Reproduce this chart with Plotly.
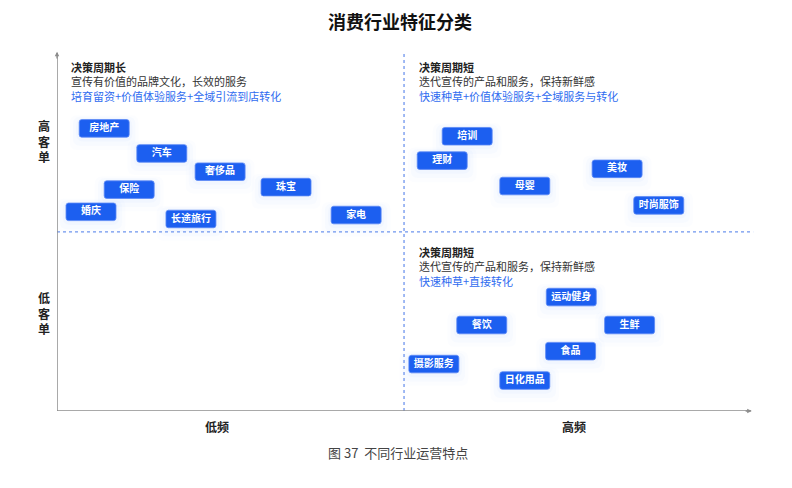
import plotly.graph_objects as go

# industry tags: name, frequency (x), ticket size (y) on a 0-100 scale
names = ["房地产", "汽车", "奢侈品", "保险", "珠宝", "婚庆", "长途旅行", "家电",
         "培训", "理财", "母婴", "美妆", "时尚服饰",
         "运动健身", "餐饮", "生鲜", "食品", "摄影服务", "日化用品"]
freq = [6.8, 15.1, 23.5, 10.4, 33.0, 4.9, 19.3, 43.1,
        59.1, 55.5, 67.4, 80.7, 86.7,
        74.1, 61.2, 82.5, 74.0, 54.3, 67.4]
ticket = [78.9, 71.9, 66.8, 61.8, 62.5, 55.6, 53.6, 54.7,
          76.7, 69.9, 62.8, 67.6, 57.4,
          31.8, 24.0, 24.0, 16.7, 13.1, 8.5]

# quadrant notes
quad_x = [1.7, 51.8, 51.8]
quad_y = [98.9, 98.9, 47.1]
quad_head = ["决策周期长", "决策周期短", "决策周期短"]
quad_line = ["宣传有价值的品牌文化，长效的服务", "迭代宣传的产品和服务，保持新鲜感", "迭代宣传的产品和服务，保持新鲜感"]
quad_blue = ["培育留资+价值体验服务+全域引流到店转化", "快速种草+价值体验服务+全域服务与转化", "快速种草+直接转化"]

mid = 50
FONT = "Noto Sans CJK SC"
BLUE = "#1c5ff0"
BW, BH = 7.2, 4.9   # box size in data units
RX, RY = 0.35, 0.7  # corner radius


def rounded(x0, y0, x1, y1, rx, ry):
    return (f"M{x0+rx},{y0} L{x1-rx},{y0} Q{x1},{y0} {x1},{y0+ry} "
            f"L{x1},{y1-ry} Q{x1},{y1} {x1-rx},{y1} L{x0+rx},{y1} "
            f"Q{x0},{y1} {x0},{y1-ry} L{x0},{y0+ry} Q{x0},{y0} {x0+rx},{y0} Z")


fig = go.Figure()

shapes = []
# soft glow under the boxes
for x, y in zip(freq, ticket):
    for g, op in [(3.0, 0.025), (2.0, 0.03), (1.0, 0.04)]:
        shapes.append(dict(type="path", xref="x", yref="y", layer="below",
                           path=rounded(x - BW/2 - g*0.45, y - BH/2 - g*1.2, x + BW/2 + g*0.45, y + BH/2 + g*0.4,
                                        RX*3, RY*3),
                           fillcolor="#6f97f7", opacity=op, line=dict(width=0)))
for x, y in zip(freq, ticket):
    shapes.append(dict(type="path", xref="x", yref="y", layer="below",
                       path=rounded(x - BW/2, y - BH/2, x + BW/2, y + BH/2, RX, RY),
                       fillcolor=BLUE, line=dict(color="#5a88f5", width=0.8)))

# dashed quadrant dividers
shapes.append(dict(type="line", xref="x", yref="y", x0=0, x1=100.3, y0=mid, y1=mid, layer="below",
                   line=dict(color="#6f95ee", width=1.3, dash="3px,3px")))
shapes.append(dict(type="line", xref="x", yref="y", x0=mid, x1=mid, y0=0, y1=100, layer="below",
                   line=dict(color="#6f95ee", width=1.3, dash="3px,3px")))
# axes
shapes.append(dict(type="line", xref="x", yref="y", x0=0, x1=100, y0=0, y1=0,
                   line=dict(color="#8c8c8c", width=1.5)))
shapes.append(dict(type="line", xref="x", yref="y", x0=0, x1=0, y0=0, y1=100,
                   line=dict(color="#8c8c8c", width=1.5)))

fig.add_trace(go.Scatter(
    x=freq, y=ticket, mode="text", text=[f"<b>{n}</b>" for n in names],
    textfont=dict(family=FONT, size=10, color="white"), hoverinfo="skip", showlegend=False))

ann = []
# axis arrowheads
ann.append(dict(x=100.1, y=0, ax=99, ay=0, xref="x", yref="y", axref="x", ayref="y",
                showarrow=True, arrowhead=2, arrowsize=0.7, arrowwidth=1.3, arrowcolor="#8c8c8c", text=""))
ann.append(dict(x=0, y=100.3, ax=0, ay=98, xref="x", yref="y", axref="x", ayref="y",
                showarrow=True, arrowhead=2, arrowsize=0.7, arrowwidth=1.3, arrowcolor="#8c8c8c", text=""))

for qx, qy, h, l, b in zip(quad_x, quad_y, quad_head, quad_line, quad_blue):
    txt = (f"<b><span style='color:#222222'>{h}</span></b><br>"
           f"<span style='color:#333333'>{l}</span><br>"
           f"<span style='color:#2f6cf0'>{b}</span>")
    ann.append(dict(x=qx, y=qy, xref="x", yref="y", xanchor="left", yanchor="top", align="left",
                    showarrow=False, text=txt, font=dict(family=FONT, size=11, color="#333333")))

# axis labels
ann.append(dict(x=-0.0185, y=0.75, xref="paper", yref="paper", xanchor="center", yanchor="middle",
                showarrow=False, text="<b>高</b><br><b>客</b><br><b>单</b>",
                font=dict(family=FONT, size=12, color="#222222")))
ann.append(dict(x=-0.0185, y=0.272, xref="paper", yref="paper", xanchor="center", yanchor="middle",
                showarrow=False, text="<b>低</b><br><b>客</b><br><b>单</b>",
                font=dict(family=FONT, size=12, color="#222222")))
ann.append(dict(x=23.1, y=-0.044, xref="x", yref="paper", xanchor="center", yanchor="middle",
                showarrow=False, text="<b>低频</b>", font=dict(family=FONT, size=12, color="#222222")))
ann.append(dict(x=74.5, y=-0.044, xref="x", yref="paper", xanchor="center", yanchor="middle",
                showarrow=False, text="<b>高频</b>", font=dict(family=FONT, size=12, color="#222222")))
ann.append(dict(x=0.487, y=-0.116, xref="paper", yref="paper", xanchor="center", yanchor="middle",
                showarrow=False, text="图 37  不同行业运营特点", font=dict(family=FONT, size=13, color="#444444")))

# the page puts the figure 8px in from the top-left corner, so the figure is
# drawn 8px smaller and the margins are shifted by that much
fig.update_layout(
    width=784, height=480,
    margin=dict(l=49, r=34, t=43, b=77),
    paper_bgcolor="white", plot_bgcolor="white",
    title=dict(text="<b>消费行业特征分类</b>", x=0.5, xanchor="center", y=0.97, yanchor="middle",
               font=dict(family=FONT, size=18, color="#111111")),
    xaxis=dict(range=[0, 101], visible=False, fixedrange=True),
    yaxis=dict(range=[0, 100.5], visible=False, fixedrange=True),
    shapes=shapes, annotations=ann,
    font=dict(family=FONT),
)

fig.write_html("out.html")
